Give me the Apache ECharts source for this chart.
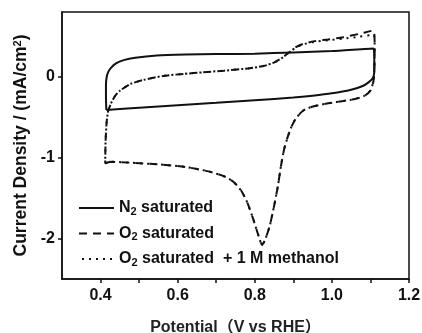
<!DOCTYPE html>
<html>
<head>
<meta charset="utf-8">
<script src="https://cdn.jsdelivr.net/npm/echarts@6/dist/echarts.min.js"></script>
<style>
  html, body { margin: 0; padding: 0; background: #fff; }
  #main { width: 422px; height: 333px; }
</style>
</head>
<body>
<div id="main"></div>
<script>
// 刻度
var xTickValues = [0.4, 0.5, 0.6, 0.7, 0.8, 0.9, 1.0, 1.1, 1.2];
var xLabelValues = [0.4, 0.6, 0.8, 1.0, 1.2];
var yTickValues = [-2, -1, 0];

// N2 saturated (solid loop)
var n2Data = [
  [0.415, -0.41], [0.414, -0.25], [0.414, -0.1], [0.416, 0.0], [0.42, 0.06],
  [0.427, 0.11], [0.44, 0.165], [0.46, 0.205], [0.49, 0.235], [0.546, 0.262],
  [0.62, 0.274], [0.7, 0.28], [0.8, 0.285], [0.9, 0.3], [1.0, 0.318], [1.108, 0.35],
  [1.11, 0.2], [1.11, 0.06], [1.106, -0.02], [1.095, -0.07], [1.08, -0.115],
  [1.05, -0.16], [1.0, -0.205], [0.95, -0.235], [0.9, -0.258], [0.8, -0.29],
  [0.7, -0.322], [0.6, -0.352], [0.5, -0.383], [0.415, -0.41]
];

// O2 saturated (dashed loop)
var o2Data = [
  [0.425, -1.05], [0.412, -1.07], [0.413, -0.8], [0.416, -0.55], [0.42, -0.42],
  [0.427, -0.33], [0.438, -0.235], [0.451, -0.17], [0.477, -0.09], [0.511, -0.04],
  [0.563, 0.01], [0.615, 0.035], [0.666, 0.055], [0.72, 0.075], [0.787, 0.105],
  [0.825, 0.135], [0.852, 0.18], [0.873, 0.24], [0.886, 0.29], [0.905, 0.36],
  [0.925, 0.405], [0.955, 0.44], [0.99, 0.46], [1.029, 0.489], [1.072, 0.531],
  [1.108, 0.572], [1.111, 0.35], [1.11, 0.1], [1.108, -0.05], [1.1, -0.17],
  [1.085, -0.235], [1.06, -0.275], [1.03, -0.3], [0.994, -0.326], [0.951, -0.367],
  [0.925, -0.42], [0.906, -0.52], [0.895, -0.62], [0.885, -0.75], [0.876, -0.9],
  [0.868, -1.1], [0.86, -1.35], [0.85, -1.6], [0.839, -1.84], [0.828, -2.0],
  [0.819, -2.08], [0.81, -1.97], [0.796, -1.76], [0.781, -1.56], [0.765, -1.41],
  [0.745, -1.3], [0.72, -1.23], [0.68, -1.17], [0.62, -1.115], [0.55, -1.083],
  [0.48, -1.063], [0.425, -1.05]
];

// O2 saturated + 1 M methanol (dotted loop)
var methanolData = [
  [0.425, -1.05], [0.412, -1.07], [0.413, -0.8], [0.416, -0.55], [0.42, -0.42],
  [0.427, -0.33], [0.438, -0.235], [0.451, -0.17], [0.477, -0.09], [0.511, -0.04],
  [0.563, 0.01], [0.615, 0.035], [0.666, 0.055], [0.72, 0.075], [0.787, 0.105],
  [0.825, 0.135], [0.852, 0.18], [0.873, 0.24], [0.886, 0.29], [0.905, 0.355],
  [0.925, 0.4], [0.955, 0.432], [0.99, 0.45], [1.029, 0.47], [1.072, 0.495],
  [1.108, 0.518], [1.111, 0.35], [1.11, 0.1], [1.108, -0.05], [1.1, -0.17],
  [1.085, -0.235], [1.06, -0.275], [1.03, -0.3], [0.994, -0.326], [0.951, -0.367],
  [0.925, -0.42], [0.906, -0.52], [0.895, -0.62], [0.885, -0.75], [0.876, -0.9],
  [0.868, -1.1], [0.86, -1.35], [0.85, -1.6], [0.839, -1.84], [0.828, -2.0],
  [0.819, -2.08], [0.81, -1.97], [0.796, -1.76], [0.781, -1.56], [0.765, -1.41],
  [0.745, -1.3], [0.72, -1.23], [0.68, -1.17], [0.62, -1.115], [0.55, -1.083],
  [0.48, -1.063], [0.425, -1.05]
];

var seriesNames = ['N2 saturated', 'O2 saturated', 'O2 saturated + 1 M methanol'];

var FONT = '"Liberation Sans", Arial, "Noto Sans CJK SC", sans-serif';
var INK = '#111';

var chart = echarts.init(document.getElementById('main'), null, { renderer: 'canvas' });

var option = {
  backgroundColor: '#fff',
  animation: false,
  textStyle: { fontFamily: FONT, color: INK },
  grid: {
    left: 62, right: 13, top: 12, bottom: 54,
    containLabel: false, outerBoundsMode: 'none',
    show: true, borderColor: INK, borderWidth: 1.5, backgroundColor: 'transparent'
  },
  legend: {
    orient: 'vertical',
    left: 78, top: 199, padding: 0,
    itemWidth: 35, itemHeight: 14, itemGap: 7.5,
    data: seriesNames,
    itemStyle: { color: 'transparent', borderWidth: 0, opacity: 0 },
    formatter: function (name) {
      if (name === seriesNames[0]) return '{a|N}{s|2}{a| saturated}';
      if (name === seriesNames[1]) return '{a|O}{s|2}{a| saturated}';
      return '{a|O}{s|2}{a| saturated  + 1 M methanol}';
    },
    textStyle: {
      fontFamily: FONT, color: INK, lineHeight: 18,
      rich: {
        a: { fontSize: 16, fontWeight: 'bold', fontFamily: FONT, color: INK, lineHeight: 18 },
        s: { fontSize: 11, fontWeight: 'bold', fontFamily: FONT, color: INK, verticalAlign: 'bottom', lineHeight: 14, padding: [5, 0, 0, 0] }
      }
    }
  },
  xAxis: {
    type: 'value',
    min: 0.3, max: 1.2,
    name: 'Potential（V vs RHE）',
    nameLocation: 'middle',
    nameGap: 41,
    nameTextStyle: { fontSize: 16, fontWeight: 'bold', fontFamily: FONT, color: '#222' },
    axisLine: { onZero: false, lineStyle: { color: INK, width: 1.5 } },
    axisTick: { show: true, inside: false, length: 4, customValues: xTickValues, lineStyle: { color: INK, width: 1.5 } },
    axisLabel: {
      customValues: xLabelValues, margin: 9,
      fontSize: 16, fontWeight: 'bold', fontFamily: FONT, color: INK,
      formatter: function (v) { return Number(v).toFixed(1); }
    },
    splitLine: { show: false }
  },
  yAxis: {
    type: 'value',
    min: -2.5, max: 0.8,
    name: 'Current Density / (mA/cm{sup|2})',
    nameLocation: 'middle',
    nameGap: 28,
    nameRotate: 90,
    nameTextStyle: {
      fontSize: 17.5, fontWeight: 'bold', fontFamily: FONT, color: INK,
      rich: {
        sup: { fontSize: 11, fontWeight: 'bold', fontFamily: FONT, color: INK, verticalAlign: 'top', padding: [0, 0, 6, 0] }
      }
    },
    axisLine: { onZero: false, lineStyle: { color: INK, width: 1.5 } },
    axisTick: { show: true, inside: false, length: 4, customValues: yTickValues, lineStyle: { color: INK, width: 1.5 } },
    axisLabel: {
      customValues: yTickValues, margin: 7,
      fontSize: 16, fontWeight: 'bold', fontFamily: FONT, color: INK
    },
    splitLine: { show: false }
  },
  series: [{
    name: seriesNames[0],
    type: 'line',
    data: n2Data,
    symbol: 'none',
    smooth: 0.2,
    lineStyle: { color: INK, width: 2, type: 'solid' },
    itemStyle: { color: INK }
  }, {
    name: seriesNames[1],
    type: 'line',
    data: o2Data,
    symbol: 'none',
    smooth: 0.2,
    lineStyle: { color: INK, width: 2, type: [8, 6] },
    itemStyle: { color: INK }
  }, {
    name: seriesNames[2],
    type: 'line',
    data: methanolData,
    symbol: 'none',
    smooth: 0.2,
    lineStyle: { color: INK, width: 2, type: [2, 5], dashOffset: 4 },
    itemStyle: { color: INK }
  }]
};

chart.setOption(option);
</script>
</body>
</html>
